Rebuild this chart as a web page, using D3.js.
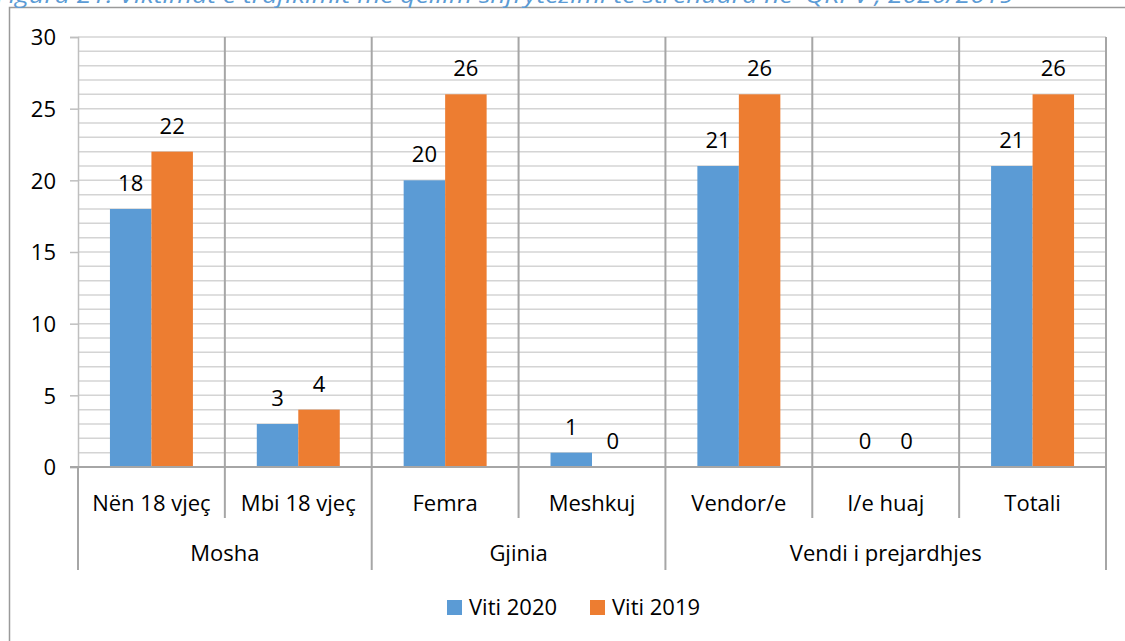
<!DOCTYPE html>
<html>
<meta charset="utf-8">
<script src="https://d3js.org/d3.v7.min.js"></script>
<style>
  body { margin: 0; background: #fff; }
  svg text { font-family: "Open Sans", "Noto Sans", sans-serif; fill: #000; }
</style>
<body>
<div id="my_dataviz"></div>
<script>
    // data
    const categories = ["Nën 18 vjeç", "Mbi 18 vjeç", "Femra", "Meshkuj", "Vendor/e", "I/e huaj", "Totali"];
    const groups = ["Mosha", "Gjinia", "Vendi i prejardhjes"];
    const groupSizes = [2, 2, 3];
    const series = ["Viti 2020", "Viti 2019"];
    const values2020 = [18, 3, 20, 1, 21, 0, 21];
    const values2019 = [22, 4, 26, 0, 26, 0, 26];
    const yTicks = [0, 5, 10, 15, 20, 25, 30];
    const colors = ["#5b9bd5", "#ed7d31"];

    const W = 1125, H = 641;
    const margin = {top: 37, right: 19, bottom: 174, left: 78};
    const width = W - margin.left - margin.right,
          height = H - margin.top - margin.bottom;
    const fs = "22px";

    const svg = d3.select("#my_dataviz")
      .append("svg")
      .attr("width", W)
      .attr("height", H);

    // outer frame (only top and left edges are visible)
    svg.append("path")
      .attr("d", "M9.5," + H + "V7.5H" + W)
      .attr("fill", "none")
      .attr("stroke", "#9a9a9a")
      .attr("stroke-width", 1.5);

    // caption, mostly cut off above the picture (as in the source)
    svg.append("text")
      .attr("x", -4)
      .attr("y", 3)
      .attr("textLength", 1018)
      .attr("lengthAdjust", "spacingAndGlyphs")
      .style("font-size", "22px")
      .style("font-style", "italic")
      .style("fill", "#5b9bd5")
      .text("Figura 21: Viktimat e trafikimit me qëllim shfrytëzimi të strehuara në 'QKPV', 2020/2019");

    const g = svg.append("g")
      .attr("transform", "translate(" + margin.left + "," + margin.top + ")");

    const x = d3.scaleBand()
      .domain(categories)
      .range([0, width])
      .padding(0);

    const xs = d3.scaleBand()
      .domain(series)
      .range([0, x.bandwidth()])
      .paddingInner(0)
      .paddingOuter(0.77);

    const y = d3.scaleLinear()
      .domain([0, 30])
      .range([height, 0]);

    // minor + major horizontal gridlines
    g.append("g")
      .selectAll("line")
      .data(d3.range(1, 31))
      .enter()
      .append("line")
      .attr("x1", 0)
      .attr("x2", width)
      .attr("y1", d => y(d))
      .attr("y2", d => y(d))
      .attr("stroke", "#d4d4d4")
      .attr("stroke-width", 1.5);

    // vertical category separators inside the plot
    const bounds = d3.range(categories.length + 1).map(i => i * x.step());
    g.append("g")
      .selectAll("line")
      .data(bounds.slice(1))
      .enter()
      .append("line")
      .attr("x1", d => d)
      .attr("x2", d => d)
      .attr("y1", 0)
      .attr("y2", height)
      .attr("stroke", "#a6a6a6")
      .attr("stroke-width", 2);

    // Y axis
    const yAxis = g.append("g")
      .call(d3.axisLeft(y).tickValues(yTicks).tickSize(8).tickPadding(14));
    yAxis.select(".domain").attr("stroke", "#bfbfbf").attr("stroke-width", 1.5);
    yAxis.selectAll(".tick line").attr("stroke", "#bfbfbf").attr("stroke-width", 1.5);
    yAxis.selectAll(".tick text").style("font-size", fs).attr("dy", "0.35em");

    // bars
    const rows = categories.map((c, i) => ({cat: c, vals: [values2020[i], values2019[i]]}));
    const bar = g.selectAll(".cat")
      .data(rows)
      .enter()
      .append("g")
      .attr("transform", d => "translate(" + x(d.cat) + ",0)");

    bar.selectAll("rect")
      .data(d => d.vals.map((v, j) => ({s: series[j], v: v, j: j})))
      .enter()
      .append("rect")
      .attr("x", d => xs(d.s))
      .attr("width", xs.bandwidth())
      .attr("y", d => y(d.v))
      .attr("height", d => height - y(d.v))
      .attr("fill", d => colors[d.j]);

    bar.selectAll("text")
      .data(d => d.vals.map((v, j) => ({s: series[j], v: v})))
      .enter()
      .append("text")
      .attr("x", d => xs(d.s) + xs.bandwidth() / 2)
      .attr("y", d => y(d.v) - 18)
      .attr("text-anchor", "middle")
      .style("font-size", fs)
      .text(d => d.v);

    // X axis line
    g.append("line")
      .attr("x1", -8)
      .attr("x2", width)
      .attr("y1", height)
      .attr("y2", height)
      .attr("stroke", "#a6a6a6")
      .attr("stroke-width", 2);

    // multi-level category axis
    const groupStarts = [0];
    groupSizes.forEach((n, i) => groupStarts.push(groupStarts[i] + n));

    g.append("g")
      .selectAll("line")
      .data(bounds.map((b, i) => ({b: b, isGroup: groupStarts.includes(i)})))
      .enter()
      .append("line")
      .attr("x1", d => d.b)
      .attr("x2", d => d.b)
      .attr("y1", height)
      .attr("y2", d => height + (d.isGroup ? 103 : 51))
      .attr("stroke", "#a6a6a6")
      .attr("stroke-width", 2);

    g.append("g")
      .selectAll("text")
      .data(categories)
      .enter()
      .append("text")
      .attr("x", d => x(d) + x.bandwidth() / 2)
      .attr("y", height + 44)
      .attr("text-anchor", "middle")
      .style("font-size", fs)
      .text(d => d);

    g.append("g")
      .selectAll("text")
      .data(groups)
      .enter()
      .append("text")
      .attr("x", (d, i) => (groupStarts[i] + groupStarts[i + 1]) / 2 * x.step())
      .attr("y", height + 94)
      .attr("text-anchor", "middle")
      .style("font-size", fs)
      .text(d => d);

    // legend
    const legend = svg.append("g")
      .attr("transform", "translate(447,600)");
    const item = legend.selectAll("g")
      .data(series)
      .enter()
      .append("g")
      .attr("transform", (d, i) => "translate(" + i * 143 + ",0)");
    item.append("rect")
      .attr("width", 15)
      .attr("height", 15)
      .attr("fill", (d, i) => colors[i]);
    item.append("text")
      .attr("x", 22)
      .attr("y", 15)
      .style("font-size", fs)
      .text(d => d);
</script>
</body>
</html>
